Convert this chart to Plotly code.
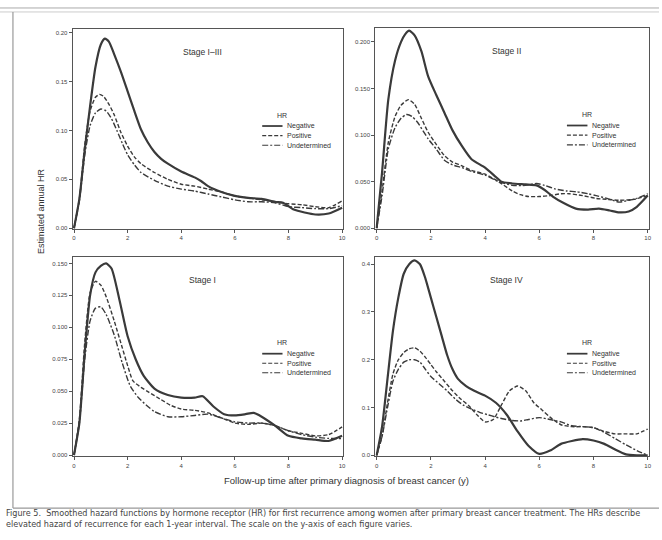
import plotly.graph_objects as go

# ---------------- data ----------------
# Stage I-III
s13_neg_x = [0, 0.2, 0.4, 0.6, 0.8, 1.0, 1.15, 1.3, 1.5, 1.75, 2.0, 2.25, 2.5, 2.75, 3.0, 3.25, 3.5, 4.0, 4.5, 4.75, 5.0, 5.5, 6.0, 6.5, 7.0, 7.5, 7.8, 8.2, 8.6, 9.0, 9.5, 10]
s13_neg_y = [0, 0.03, 0.08, 0.125, 0.165, 0.188, 0.194, 0.191, 0.178, 0.16, 0.14, 0.12, 0.101, 0.088, 0.078, 0.071, 0.066, 0.058, 0.052, 0.048, 0.043, 0.037, 0.033, 0.031, 0.030, 0.027, 0.026, 0.019, 0.016, 0.014, 0.015, 0.021]
s13_pos_x = [0, 0.2, 0.4, 0.6, 0.8, 0.95, 1.1, 1.3, 1.5, 1.75, 2.0, 2.25, 2.5, 3.0, 3.5, 4.0, 4.5, 5.0, 5.5, 6.0, 6.5, 7.0, 7.5, 8.0, 8.5, 9.0, 9.5, 10]
s13_pos_y = [0, 0.03, 0.085, 0.12, 0.134, 0.137, 0.135, 0.127, 0.116, 0.098, 0.084, 0.073, 0.066, 0.057, 0.050, 0.045, 0.043, 0.040, 0.037, 0.033, 0.031, 0.029, 0.027, 0.025, 0.024, 0.022, 0.021, 0.028]
s13_und_x = [0, 0.2, 0.4, 0.6, 0.8, 1.0, 1.2, 1.4, 1.6, 1.8, 2.0, 2.25, 2.5, 3.0, 3.5, 4.0, 4.5, 5.0, 5.5, 6.0, 6.5, 7.0, 7.5, 8.0, 8.5, 9.0, 9.5, 10]
s13_und_y = [0, 0.028, 0.075, 0.105, 0.118, 0.122, 0.12, 0.112, 0.1, 0.087, 0.075, 0.065, 0.057, 0.049, 0.043, 0.040, 0.038, 0.035, 0.032, 0.029, 0.027, 0.027, 0.026, 0.022, 0.021, 0.020, 0.020, 0.023]

# Stage II
s2_neg_x = [0, 0.2, 0.43, 0.68, 0.9, 1.05, 1.2, 1.4, 1.65, 1.9, 2.2, 2.5, 2.8, 3.15, 3.5, 4.0, 4.4, 4.6, 5.0, 5.5, 5.9, 6.2, 6.5, 6.9, 7.35, 7.8, 8.2, 8.6, 8.95, 9.3, 9.6, 10]
s2_neg_y = [0, 0.06, 0.138, 0.18, 0.2, 0.208, 0.212, 0.207, 0.19, 0.163, 0.143, 0.124, 0.105, 0.088, 0.074, 0.065, 0.055, 0.05, 0.048, 0.047, 0.046, 0.041, 0.034, 0.027, 0.021, 0.020, 0.021, 0.019, 0.017, 0.018, 0.023, 0.035]
s2_pos_x = [0, 0.2, 0.43, 0.68, 0.9, 1.17, 1.4, 1.65, 1.9, 2.2, 2.5, 2.8, 3.15, 3.5, 4.0, 4.5, 5.0, 5.3, 5.6, 6.0, 6.4, 6.8, 7.1, 7.6, 8.1, 8.5, 8.95, 9.5, 10]
s2_pos_y = [0, 0.04, 0.092, 0.12, 0.132, 0.138, 0.133, 0.118, 0.103, 0.09, 0.078, 0.071, 0.067, 0.062, 0.058, 0.050, 0.040, 0.036, 0.034, 0.034, 0.035, 0.037, 0.037, 0.035, 0.032, 0.031, 0.030, 0.031, 0.035]
s2_und_x = [0, 0.2, 0.43, 0.68, 0.9, 1.1, 1.3, 1.5, 1.9, 2.2, 2.5, 2.8, 3.15, 3.5, 4.0, 4.5, 5.0, 5.5, 5.9, 6.2, 6.6, 7.0, 7.4, 7.8, 8.1, 8.5, 8.95, 9.3, 9.6, 10]
s2_und_y = [0, 0.035, 0.085, 0.108, 0.118, 0.122, 0.12, 0.114, 0.096, 0.085, 0.073, 0.068, 0.065, 0.061, 0.057, 0.050, 0.046, 0.046, 0.048, 0.046, 0.042, 0.040, 0.039, 0.037, 0.035, 0.032, 0.028, 0.030, 0.032, 0.037]

# Stage I
s1_neg_x = [0, 0.2, 0.4, 0.6, 0.8, 1.0, 1.2, 1.4, 1.7, 2.0, 2.3, 2.6, 3.0, 3.5, 4.0, 4.5, 4.8, 5.2, 5.6, 6.0, 6.4, 6.7, 7.0, 7.5, 8.0, 8.5, 9.0, 9.5, 10]
s1_neg_y = [0, 0.025, 0.08, 0.125, 0.143, 0.148, 0.150, 0.146, 0.121, 0.093, 0.075, 0.062, 0.052, 0.047, 0.045, 0.045, 0.046, 0.038, 0.032, 0.031, 0.032, 0.033, 0.030, 0.023, 0.015, 0.013, 0.012, 0.011, 0.015]
s1_pos_x = [0, 0.2, 0.4, 0.6, 0.8, 1.0, 1.2, 1.5, 1.8, 2.0, 2.2, 2.5, 2.8, 3.2, 3.6, 4.0, 4.5, 5.0, 5.5, 6.0, 6.5, 7.0, 7.5, 8.0, 8.5, 9.0, 9.5, 10]
s1_pos_y = [0, 0.028, 0.088, 0.127, 0.136, 0.133, 0.124, 0.105, 0.084, 0.070, 0.058, 0.053, 0.049, 0.044, 0.039, 0.036, 0.035, 0.033, 0.029, 0.025, 0.024, 0.025, 0.023, 0.019, 0.017, 0.015, 0.016, 0.022]
s1_und_x = [0, 0.2, 0.4, 0.6, 0.8, 1.0, 1.2, 1.5, 1.8, 2.1, 2.4, 2.7, 3.0, 3.5, 4.0, 4.5, 5.0, 5.5, 6.0, 6.5, 7.0, 7.5, 8.0, 8.5, 9.0, 9.5, 10]
s1_und_y = [0, 0.025, 0.075, 0.105, 0.115, 0.116, 0.110, 0.094, 0.072, 0.054, 0.045, 0.039, 0.034, 0.030, 0.030, 0.031, 0.032, 0.029, 0.026, 0.025, 0.025, 0.023, 0.019, 0.016, 0.014, 0.013, 0.013]

# Stage IV
s4_neg_x = [0, 0.2, 0.4, 0.6, 0.8, 1.0, 1.2, 1.4, 1.6, 1.8, 2.0, 2.2, 2.4, 2.6, 2.8, 3.0, 3.3, 3.6, 4.0, 4.4, 4.8, 5.2, 5.6, 6.0, 6.4, 6.8, 7.2, 7.6, 8.0, 8.4, 8.8, 9.2, 9.6, 10]
s4_neg_y = [0, 0.06, 0.16, 0.26, 0.33, 0.38, 0.40, 0.408, 0.40, 0.37, 0.33, 0.29, 0.25, 0.21, 0.18, 0.16, 0.145, 0.135, 0.125, 0.11, 0.085, 0.05, 0.02, 0.003, 0.01, 0.024, 0.03, 0.034, 0.031, 0.024, 0.012, 0.002, 0, 0]
s4_pos_x = [0, 0.2, 0.4, 0.6, 0.8, 1.0, 1.2, 1.4, 1.6, 1.8, 2.0, 2.2, 2.5, 2.8, 3.1, 3.4, 3.7, 4.0, 4.3, 4.6, 4.9, 5.2, 5.5, 5.8, 6.1, 6.4, 6.8, 7.2, 7.6, 8.0, 8.4, 8.8, 9.2, 9.6, 10]
s4_pos_y = [0, 0.04, 0.11, 0.17, 0.2, 0.215, 0.223, 0.225, 0.218, 0.205, 0.19, 0.175, 0.155, 0.135, 0.118, 0.104, 0.085, 0.07, 0.075, 0.105, 0.135, 0.145, 0.135, 0.11, 0.095, 0.08, 0.064, 0.06, 0.06, 0.058, 0.05, 0.045, 0.045, 0.045, 0.055]
s4_und_x = [0, 0.2, 0.4, 0.6, 0.8, 1.0, 1.2, 1.4, 1.6, 1.8, 2.0, 2.3, 2.6, 2.9, 3.2, 3.5, 3.8, 4.1, 4.4, 4.7, 5.0, 5.3, 5.6, 6.0, 6.4, 6.8, 7.2, 7.6, 8.0, 8.4, 8.8, 9.2, 9.6, 10]
s4_und_y = [0, 0.04, 0.10, 0.155, 0.18, 0.195, 0.2, 0.2, 0.195, 0.18, 0.165, 0.15, 0.135, 0.118, 0.105, 0.097, 0.09, 0.085, 0.08, 0.076, 0.073, 0.072, 0.075, 0.079, 0.075, 0.07, 0.062, 0.06, 0.058, 0.048, 0.035, 0.022, 0.01, 0.0]

series_names = ["Negative", "Positive", "Undetermined"]
panel_titles = ["Stage I\u2013III", "Stage II", "Stage I", "Stage IV"]
x_ticks = [0, 2, 4, 6, 8, 10]
y_ticks_13 = [0.00, 0.05, 0.10, 0.15, 0.20]
y_ticks_2 = [0.000, 0.050, 0.100, 0.150, 0.200]
y_ticks_1 = [0.000, 0.025, 0.050, 0.075, 0.100, 0.125, 0.150]
y_ticks_4 = [0.0, 0.1, 0.2, 0.3, 0.4]

# ---------------- styling / layout ----------------
W, H = 662, 540
LC = "#3a3a3a"
styles = [dict(width=2.2, dash="solid"),
          dict(width=1.4, dash="4px,2px"),
          dict(width=1.4, dash="6px,2px,2px,2px")]

def px_dom_x(a, b):
    return [a / W, b / W]

def px_dom_y(top, bot):
    return [1 - bot / H, 1 - top / H]

panels = [
    dict(data=[(s13_neg_x, s13_neg_y), (s13_pos_x, s13_pos_y), (s13_und_x, s13_und_y)],
         xd=px_dom_x(73, 345), yd=px_dom_y(29, 230), yr=[-0.001, 0.204], yt=y_ticks_13, fmt=".2f"),
    dict(data=[(s2_neg_x, s2_neg_y), (s2_pos_x, s2_pos_y), (s2_und_x, s2_und_y)],
         xd=px_dom_x(377, 652), yd=px_dom_y(28, 230), yr=[-0.001, 0.215], yt=y_ticks_2, fmt=".3f"),
    dict(data=[(s1_neg_x, s1_neg_y), (s1_pos_x, s1_pos_y), (s1_und_x, s1_und_y)],
         xd=px_dom_x(73, 345), yd=px_dom_y(258, 458), yr=[-0.001, 0.155], yt=y_ticks_1, fmt=".3f"),
    dict(data=[(s4_neg_x, s4_neg_y), (s4_pos_x, s4_pos_y), (s4_und_x, s4_und_y)],
         xd=px_dom_x(377, 652), yd=px_dom_y(258, 458), yr=[-0.002, 0.415], yt=y_ticks_4, fmt=".1f"),
]

fig = go.Figure()
layout = dict(width=W, height=H, margin=dict(l=0, r=0, t=0, b=0),
              paper_bgcolor="white", plot_bgcolor="white", showlegend=False,
              font=dict(family="Liberation Sans, Arial, sans-serif", color="#333"))
shapes, annotations = [], []

for i, p in enumerate(panels):
    n = i + 1
    xa = "x" if n == 1 else f"x{n}"
    ya = "y" if n == 1 else f"y{n}"
    for j, (xs, ys) in enumerate(p["data"]):
        fig.add_trace(go.Scatter(x=xs, y=ys, mode="lines", name=series_names[j],
                                 line=dict(color=LC, shape="spline", smoothing=0.6, **styles[j]),
                                 xaxis=xa, yaxis=ya, hoverinfo="skip"))
    axcommon = dict(showline=True, mirror=True, linecolor="#555", linewidth=1.2,
                    ticks="outside", ticklen=3, tickcolor="#555", showgrid=False,
                    zeroline=False, tickfont=dict(size=6, color="#444"))
    layout["xaxis" if n == 1 else f"xaxis{n}"] = dict(domain=p["xd"], range=[-0.05, 10.05],
                                                      tickvals=x_ticks, anchor=ya, **axcommon)
    layout["yaxis" if n == 1 else f"yaxis{n}"] = dict(domain=p["yd"], range=p["yr"],
                                                      tickvals=p["yt"], tickformat=p["fmt"],
                                                      anchor=xa, **axcommon)
    # panel title
    annotations.append(dict(text=panel_titles[i], xref=f"{xa} domain", yref=f"{ya} domain",
                            x=0.48, y=0.92, showarrow=False, font=dict(size=8.5, color="#333")))
    # manual legend
    annotations.append(dict(text="HR", xref=f"{xa} domain", yref=f"{ya} domain",
                            x=0.80, y=0.57, showarrow=False, font=dict(size=7, color="#333")))
    for j, nm in enumerate(series_names):
        yy = 0.515 - j * 0.048
        shapes.append(dict(type="line", xref=f"{xa} domain", yref=f"{ya} domain",
                           x0=0.70, x1=0.775, y0=yy, y1=yy,
                           line=dict(color=LC, width=styles[j]["width"] * 0.8, dash=styles[j]["dash"])))
        annotations.append(dict(text=nm, xref=f"{xa} domain", yref=f"{ya} domain",
                                x=0.783, y=yy, xanchor="left", showarrow=False,
                                font=dict(size=7, color="#333")))

# axis titles
annotations.append(dict(text="Estimated annual HR", xref="paper", yref="paper",
                        x=34 / W, y=1 - 212 / H, textangle=-90, showarrow=False,
                        font=dict(size=9, color="#333")))
annotations.append(dict(text="Follow-up time after primary diagnosis of breast cancer (y)",
                        xref="paper", yref="paper", x=348 / W, y=1 - 490 / H,
                        showarrow=False, font=dict(size=9.5, color="#333")))
# caption
cap_font = dict(size=8.1, color="#444", family="DejaVu Sans, sans-serif")
annotations.append(dict(text="Figure 5.  Smoothed hazard functions by hormone receptor (HR) for first recurrence among women after primary breast cancer treatment. The HRs describe",
                        xref="paper", yref="paper", x=4 / W, y=1 - 522 / H, xanchor="left",
                        showarrow=False, font=cap_font))
annotations.append(dict(text="elevated hazard of recurrence for each 1-year interval. The scale on the y-axis of each figure varies.",
                        xref="paper", yref="paper", x=4 / W, y=1 - 533 / H, xanchor="left",
                        showarrow=False, font=cap_font))

# frame around the figure
shapes.append(dict(type="line", xref="paper", yref="paper", x0=0, x1=1, y0=1 - 8 / H, y1=1 - 8 / H,
                   line=dict(color="#aaa", width=1)))
shapes.append(dict(type="line", xref="paper", yref="paper", x0=0, x1=1, y0=1 - 12 / H, y1=1 - 12 / H,
                   line=dict(color="#ccc", width=1)))
shapes.append(dict(type="line", xref="paper", yref="paper", x0=13 / W, x1=13 / W, y0=1 - 510 / H, y1=1 - 12 / H,
                   line=dict(color="#999", width=1.2)))
shapes.append(dict(type="line", xref="paper", yref="paper", x0=13 / W, x1=1, y0=1 - 510 / H, y1=1 - 510 / H,
                   line=dict(color="#999", width=1.2)))

layout["shapes"] = shapes
layout["annotations"] = annotations
fig.update_layout(**layout)
fig.write_html("out.html")
